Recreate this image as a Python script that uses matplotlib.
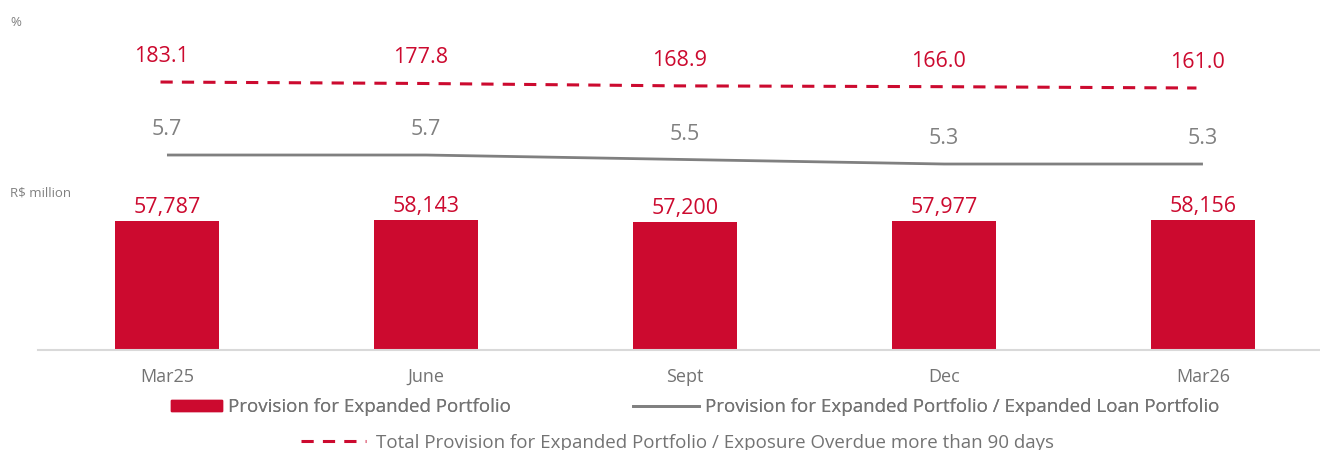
import matplotlib.pyplot as plt
from matplotlib.patches import Patch, Rectangle
from matplotlib.lines import Line2D
from matplotlib.legend_handler import HandlerPatch
import numpy as np

plt.rcParams['font.family'] = ['Open Sans', 'DejaVu Sans']

quarters = ["Mar25", "June", "Sept", "Dec", "Mar26"]
provision = [57787, 58143, 57200, 57977, 58156]
prov_to_portfolio = [5.7, 5.7, 5.5, 5.3, 5.3]
prov_to_overdue = [183.1, 177.8, 168.9, 166.0, 161.0]

red = "#cc0a2f"
gray = "#808080"
txt = "#737373"

W, H = 1320, 450
fig = plt.figure(figsize=(W / 100, H / 100), dpi=100)
# axes box in pixels: left 38, right 1320, bottom 350, top 10
ax = fig.add_axes([38 / W, (H - 350) / H, (W - 38) / W, 340 / H])

x = np.arange(len(quarters))
ax.bar(x, provision, width=0.40, color=red, zorder=2)
ax.set_xlim(-0.498, 4.452)
ax.set_ylim(0, 152300)
ax.set_xticks(x)
ax.set_xticklabels(quarters, fontsize=13, color=txt)
ax.tick_params(axis="x", length=0, pad=13)
ax.set_yticks([])
for s in ["top", "right", "left"]:
    ax.spines[s].set_visible(False)
ax.spines["bottom"].set_color("#d9d9d9")
ax.spines["bottom"].set_linewidth(1.5)

for xi, v in zip(x, provision):
    ax.annotate(f"{v:,}", (xi, v), xytext=(0, 3), textcoords="offset pixels",
                ha="center", va="bottom", fontsize=15.5, color=red)

# solid line axis
ax2 = ax.twinx()
ax2.set_ylim(-2.966, 12.145)
ax2.plot(x, prov_to_portfolio, color=gray, lw=2, solid_capstyle="butt")
for xi, v in zip(x, prov_to_portfolio):
    ax2.annotate(f"{v:.1f}", (xi, v), xytext=(0, 15), textcoords="offset pixels",
                 ha="center", va="bottom", fontsize=15.5, color=gray)
ax2.axis("off")

# dashed line axis
ax3 = ax.twinx()
ax3.set_ylim(-804.2, 448.4)
ax3.plot(x - 0.025, prov_to_overdue, color=red, lw=2.2, ls=(0, (4, 3)))
for xi, v in zip(x, prov_to_overdue):
    ax3.annotate(f"{v:.1f}", (xi - 0.02, v), xytext=(0, 15), textcoords="offset pixels",
                 ha="center", va="bottom", fontsize=15.5, color=red)
ax3.axis("off")

fig.text(10 / W, 1 - 22 / H, "%", fontsize=9.5, color=gray, va="center")
fig.text(10 / W, 1 - 193 / H, "R$ million", fontsize=9.5, color=gray, va="center")


def short_patch(legend, orig_handle, xdescent, ydescent, width, height, fontsize):
    w = width * 50 / 65
    return Rectangle((width - w - xdescent, -ydescent), w, height)


h1 = [Patch(color=red),
      Line2D([], [], color=gray, lw=2)]
l1 = ["Provision for Expanded Portfolio",
      "Provision for Expanded Portfolio / Expanded Loan Portfolio"]
leg1 = fig.legend(h1, l1, loc="center", bbox_to_anchor=(688 / W, 1 - 407 / H), ncol=2,
                  frameon=False, fontsize=13.5, labelcolor=txt,
                  handlelength=3.5, handleheight=0.55, handletextpad=0.35, columnspacing=6.5,
                  handler_map={Patch: HandlerPatch(patch_func=short_patch)})
fig.add_artist(leg1)
h2 = [Line2D([], [], color=red, lw=2.2, ls=(0, (4, 3)))]
l2 = ["Total Provision for Expanded Portfolio / Exposure Overdue more than 90 days"]
fig.legend(h2, l2, loc="center", bbox_to_anchor=(677 / W, 1 - 443 / H),
           frameon=False, fontsize=13.5, labelcolor=txt,
           handlelength=3.5, handletextpad=0.5)

fig.savefig("out.png", dpi=100)
